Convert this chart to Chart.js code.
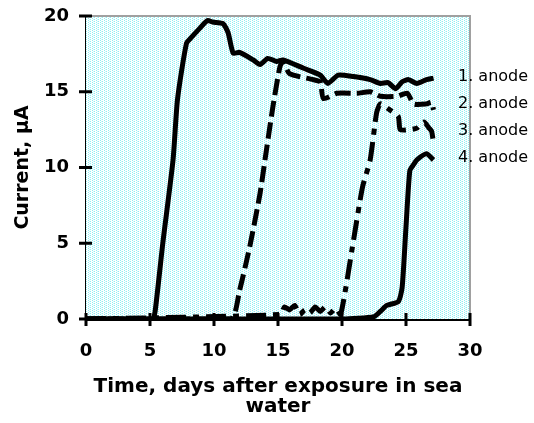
<!DOCTYPE html>
<html>
<head>
<meta charset="utf-8">
<script src="https://cdn.jsdelivr.net/npm/chart.js@4/dist/chart.umd.min.js"></script>
<style>
  html, body { margin: 0; padding: 0; background: #fff; }
  canvas { display: block; }
</style>
</head>
<body>
<canvas id="chart" width="534" height="423"></canvas>
<script>
// values, days vs current (µA)
const anode1Days = [0, 5.2, 5.4, 6.0, 6.8, 7.15, 7.85, 8.25, 8.9, 9.5, 9.9, 10.7, 11.1, 11.5, 12.0, 13.06, 13.6, 14.2, 14.9, 15.4, 17.0, 18.3, 18.9, 19.7, 20.9, 22.2, 23.0, 23.6, 24.2, 24.7, 25.2, 25.85, 26.6, 27.15];
const anode1Current = [0, 0, 0.5, 5.0, 10.5, 14.5, 18.2, 18.6, 19.2, 19.7, 19.6, 19.5, 18.9, 17.55, 17.6, 17.1, 16.8, 17.2, 17.0, 17.1, 16.55, 16.1, 15.55, 16.1, 16.0, 15.8, 15.55, 15.6, 15.2, 15.66, 15.8, 15.55, 15.8, 15.9];

const anode2Days = [0, 11.3, 12.0, 12.8, 13.6, 14.0, 14.6, 15.15, 15.4, 15.9, 17.75, 18.3, 18.55, 19.6, 21.2, 22.2, 23.0, 24.3, 25.1, 25.6, 26.6, 27.0, 27.15];
const anode2Current = [0, 0, 1.9, 4.8, 8.3, 10.6, 14.0, 16.65, 17.0, 16.2, 15.8, 15.65, 14.55, 14.9, 14.9, 15.0, 14.7, 14.7, 14.9, 14.2, 14.2, 14.3, 13.8];

const anode3Days = [0, 15.2, 15.5, 15.9, 16.3, 16.7, 17.1, 17.5, 17.9, 18.3, 18.7, 19.1, 19.5, 19.9, 20.9, 21.6, 22.2, 22.7, 23.0, 23.75, 24.4, 24.55, 25.3, 25.85, 26.4, 26.8, 27.0, 27.15];
const anode3Current = [0, 0.3, 0.8, 0.6, 0.9, 0.3, 0.6, 0.4, 0.8, 0.5, 0.8, 0.4, 0.7, 0.3, 5.2, 8.7, 10.5, 13.6, 14.2, 13.8, 13.35, 12.5, 12.5, 12.6, 13.0, 12.6, 12.4, 11.6];

const anode4Days = [0, 20.0, 22.5, 23.0, 23.5, 24.4, 24.7, 25.0, 25.3, 25.6, 25.85, 26.6, 27.15];
const anode4Current = [0, 0, 0.15, 0.5, 0.9, 1.15, 2.1, 6.1, 9.8, 10.2, 10.5, 10.9, 10.5];

const legendLabels = ['1. anode', '2. anode', '3. anode', '4. anode'];
const xTitle = ['Time, days after exposure in sea', 'water'];
const yTitle = 'Current, µA';

function toPoints(days, values) {
  return days.map((d, i) => ({ x: d, y: values[i] }));
}

// dotted cyan fill like the old spreadsheet plot area
function makePattern(ctx) {
  const p = document.createElement('canvas');
  p.width = 4;
  p.height = 2;
  const pc = p.getContext('2d');
  pc.fillStyle = '#ffffff';
  pc.fillRect(0, 0, 4, 2);
  pc.fillStyle = '#8cf0f4';
  pc.fillRect(0, 0, 1, 1);
  pc.fillRect(2, 1, 1, 1);
  pc.fillStyle = '#d2f8fa';
  pc.fillRect(1, 1, 1, 1);
  return ctx.createPattern(p, 'repeat');
}

const plotDecor = {
  id: 'plotDecor',
  beforeDatasetsDraw(chart) {
    const { ctx, chartArea: a } = chart;
    ctx.save();
    ctx.fillStyle = makePattern(ctx);
    ctx.fillRect(a.left, a.top, a.right - a.left, a.bottom - a.top);
    ctx.strokeStyle = '#a0a0a0';
    ctx.lineWidth = 2;
    ctx.beginPath();
    ctx.moveTo(a.left, a.top);
    ctx.lineTo(a.right, a.top);
    ctx.lineTo(a.right, a.bottom);
    ctx.stroke();
    ctx.restore();
  },
  afterDraw(chart) {
    const { ctx, chartArea: a, scales } = chart;
    ctx.save();
    ctx.strokeStyle = '#000';
    ctx.lineWidth = 3;
    ctx.beginPath();
    scales.x.ticks.forEach((t, i) => {
      const px = scales.x.getPixelForTick(i);
      ctx.moveTo(px, a.bottom - 6);
      ctx.lineTo(px, a.bottom + 7);
    });
    scales.y.ticks.forEach((t, i) => {
      const py = scales.y.getPixelForTick(i);
      ctx.moveTo(a.left - 7, py);
      ctx.lineTo(a.left + 6, py);
    });
    ctx.stroke();

    ctx.fillStyle = '#000';
    ctx.font = '16px "DejaVu Sans"';
    ctx.textBaseline = 'middle';
    legendLabels.forEach((label, i) => {
      ctx.fillText(label, a.right - 12, 77 + i * 27);
    });
    ctx.restore();
  }
};

const lineStyle = {
  borderColor: '#000',
  borderWidth: 5,
  pointRadius: 0,
  tension: 0.2,
  fill: false,
  borderJoinStyle: 'round',
  borderCapStyle: 'butt',
};

Chart.defaults.font.family = '"DejaVu Sans", Verdana, sans-serif';
Chart.defaults.color = '#000';

new Chart(document.getElementById('chart'), {
  type: 'line',
  data: {
    datasets: [
      { ...lineStyle, label: legendLabels[0], data: toPoints(anode1Days, anode1Current) },
      { ...lineStyle, label: legendLabels[1], data: toPoints(anode2Days, anode2Current), borderDash: [16, 6] },
      { ...lineStyle, label: legendLabels[2], data: toPoints(anode3Days, anode3Current), borderDash: [20, 7, 6, 7] },
      { ...lineStyle, label: legendLabels[3], data: toPoints(anode4Days, anode4Current) },
    ],
  },
  options: {
    responsive: false,
    animation: false,
    devicePixelRatio: 1,
    layout: { padding: { top: 16, right: 64, left: 0, bottom: 0 } },
    plugins: { legend: { display: false }, tooltip: { enabled: false } },
    scales: {
      x: {
        type: 'linear',
        min: 0,
        max: 30,
        ticks: { stepSize: 5, padding: 0, font: { size: 18, weight: 'bold' }, maxRotation: 0 },
        grid: { display: false, drawTicks: true, tickLength: 22 },
        border: { color: '#000', width: 3 },
        title: { display: true, text: xTitle, font: { size: 20, weight: 'bold', lineHeight: 1.0 }, padding: { top: 0, bottom: 6 } },
        afterFit(scale) { scale.height = 104; },
      },
      y: {
        min: 0,
        max: 20,
        ticks: { stepSize: 5, padding: 0, font: { size: 18, weight: 'bold' } },
        grid: { display: false, drawTicks: true, tickLength: 17 },
        border: { color: '#000', width: 3 },
        title: { display: true, text: yTitle, font: { size: 19, weight: 'bold', lineHeight: 1.2 }, padding: { top: 12, bottom: 0 } },
        afterFit(scale) { scale.width = 86; },
      },
    },
  },
  plugins: [plotDecor],
});
</script>
</body>
</html>
